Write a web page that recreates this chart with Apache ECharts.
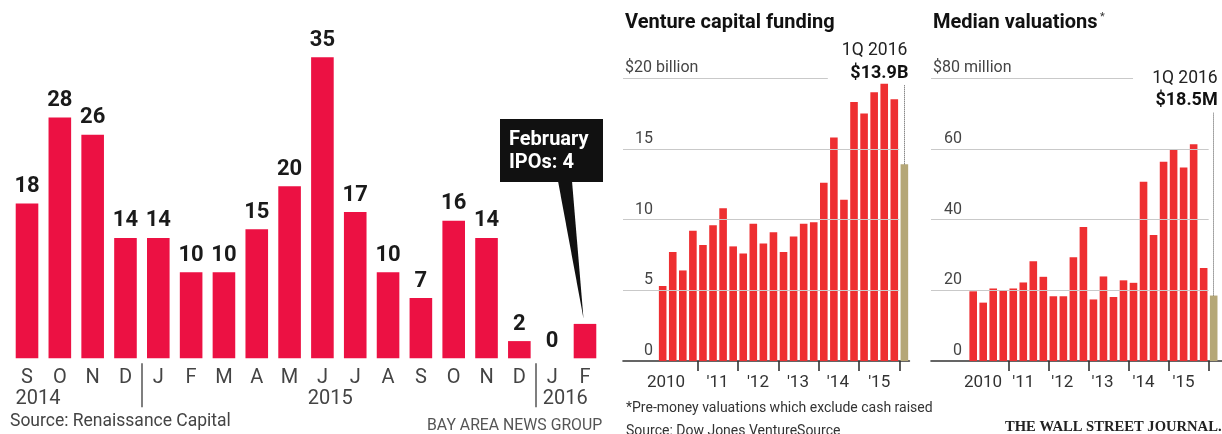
<!DOCTYPE html>
<html>
<head>
<meta charset="utf-8">
<script src="https://cdn.jsdelivr.net/npm/echarts@6/dist/echarts.min.js"></script>
<style>
  html, body { margin: 0; padding: 0; background: #fff; }
  #c { width: 1222px; height: 434px; }
</style>
</head>
<body>
<div id="c"></div>
<script>
// Monthly U.S. IPO counts, September 2014 - February 2016
const ipoMonths = ['S', 'O', 'N', 'D', 'J', 'F', 'M', 'A', 'M', 'J', 'J', 'A', 'S', 'O', 'N', 'D', 'J', 'F'];
const ipoCounts = [18, 28, 26, 14, 14, 10, 10, 15, 20, 35, 17, 10, 7, 16, 14, 2, 0, 4];
const ipoYears = ['2014', '2015', '2016'];

// Quarterly venture capital funding, $ billion, 1Q 2010 - 1Q 2016
const vcFunding = [5.3, 7.7, 6.4, 9.2, 8.2, 9.6, 10.8, 8.1, 7.6, 9.7, 8.3, 9.1, 7.7, 8.8, 9.7, 9.8,
                   12.6, 15.8, 11.4, 18.3, 17.5, 19.0, 19.6, 18.5, 13.9];
// Quarterly median pre-money valuations, $ million, 1Q 2010 - 1Q 2016
const medianValuation = [19.7, 16.5, 20.5, 20.0, 20.5, 22.2, 28.2, 23.8, 18.3, 18.3, 29.3, 37.9, 17.4, 23.9,
                         18.1, 22.8, 22.1, 50.7, 35.6, 56.3, 59.8, 54.7, 61.3, 26.3, 18.5];
const yearTicks = ['2010', "'11", "'12", "'13", "'14", "'15"];
const latestQuarter = '1Q 2016';

const SANS = 'Roboto, "Liberation Sans", sans-serif';
const IPO_RED = '#ec1143';
const VC_RED = '#ee2f31';
const GOLD = '#b5a777';
const RULE = '#c9c9c9';
const INK = '#222';

const chart = echarts.init(document.getElementById('c'), null, { renderer: 'canvas' });

function nearestLabel(value, positions, labels) {
  let best = 0;
  positions.forEach((p, i) => { if (Math.abs(p - value) < Math.abs(positions[best] - value)) best = i; });
  return labels[best];
}

// the two quarterly panels share one layout; only the scale and the unit differ
function quarterPanel(idx, opts) {
  const last = opts.values.length - 1;
  const xAxis = {
    type: 'value', gridIndex: idx, min: opts.xMin, max: opts.xMax,
    axisLine: { show: true, onZero: false, lineStyle: { color: '#333', width: 1.6 } },
    axisTick: { show: true, length: 10, customValues: [3.5, 7.5, 11.5, 15.5, 19.5, 23.5],
                lineStyle: { color: '#333', width: 1.6 } },
    axisLabel: { show: true, customValues: opts.labelPos, margin: 13, color: '#333',
                 fontFamily: SANS, fontSize: 17, hideOverlap: false,
                 formatter: v => nearestLabel(v, opts.labelPos, yearTicks) },
    splitLine: { show: false }
  };
  const yBase = {
    type: 'value', gridIndex: idx, position: 'left', min: 0, max: opts.yMax, interval: opts.yMax / 4,
    axisLine: { show: false }, axisTick: { show: false }, splitLine: { show: false }
  };
  const labelBase = { inside: true, verticalAlign: 'bottom', padding: [0, 0, 2, 0],
                      color: '#444', fontFamily: SANS, fontSize: 16 };
  // plain numbers, right-aligned above their rule
  const yAxis = Object.assign({}, yBase, {
    axisLabel: Object.assign({}, labelBase, { margin: opts.numRight, align: 'right',
      formatter: v => v === opts.yMax ? '' : String(v) })
  });
  // the top value carries the currency and the unit
  const yTopAxis = Object.assign({}, yBase, {
    axisLabel: Object.assign({}, labelBase, { margin: 2, align: 'left',
      formatter: v => v === opts.yMax ? '$' + v + ' ' + opts.unit : '' })
  });
  const rules = [opts.yMax / 4, opts.yMax / 2, opts.yMax * 3 / 4].map(v => [
    { coord: [opts.xMin, v] }, { coord: [23.5, v] }
  ]);
  rules.push([{ coord: [opts.xMin, opts.yMax] }, { coord: [opts.topRuleEnd, opts.yMax] }]);

  const series = [
    {
      type: 'line', data: [], z: 1, silent: true,
      markLine: { silent: true, animation: false, symbol: ['none', 'none'], label: { show: false },
                  lineStyle: { color: RULE, width: 1.2, type: 'solid' }, data: rules }
    },
    {
      type: 'bar', z: 3, barWidth: 7.6,
      data: opts.values.map((v, i) => ({ value: [i, v], itemStyle: { color: i === last ? GOLD : VC_RED } })),
      markLine: {
        silent: true, animation: false, symbol: ['none', 'none'], label: { show: false },
        lineStyle: { color: '#555', width: 1, type: 'dotted' },
        data: [[{ coord: [last, opts.values[last]] }, { coord: [last, opts.leaderTop] }]]
      }
    }
  ];
  return { xAxis, yAxis, yTopAxis, series };
}

const mid = quarterPanel(1, {
  values: vcFunding, xMin: -3.94, xMax: 24.5, yMax: 20, unit: 'billion', numRight: 30,
  labelPos: [0.33, 5.44, 9.46, 13.43, 17.4, 21.5], topRuleEnd: 16.4, leaderTop: 19.5
});
const right = quarterPanel(2, {
  values: medianValuation, xMin: -4.21, xMax: 24.83, yMax: 80, unit: 'million', numRight: 31,
  labelPos: [0.98, 5.0, 8.9, 12.9, 17.0, 21.0], topRuleEnd: 15.95, leaderTop: 70.2
});

// IPO panel: month letters on a category axis; years and year dividers on a matching value axis
const ipoAxis = {
  type: 'category', gridIndex: 0, data: ipoMonths,
  axisLine: { show: false }, axisTick: { show: false },
  axisLabel: { margin: 10, color: '#444', fontFamily: SANS, fontSize: 20, interval: 0 }
};
const ipoYearPos = [0.335, 9.24, 16.4];
const ipoYearAxis = {
  type: 'value', gridIndex: 0, min: -0.5, max: ipoMonths.length - 0.5, position: 'bottom', offset: 5,
  axisLine: { show: false }, splitLine: { show: false },
  axisTick: { show: true, length: 44, customValues: [3.5, 15.5], lineStyle: { color: '#555', width: 1.5 } },
  axisLabel: { show: true, customValues: ipoYearPos, margin: 26, color: '#444', fontFamily: SANS, fontSize: 20,
               formatter: v => nearestLabel(v, ipoYearPos, ipoYears) }
};

const lastIpo = ipoCounts.length - 1;
chart.setOption({
  animation: false,
  grid: [
    { left: 10.6, top: 14.3, width: 590.8, height: 344, outerBoundsMode: 'none' },
    { left: 623, top: 78, width: 286.4, height: 283, outerBoundsMode: 'none' },
    { left: 931, top: 78, width: 291, height: 283, outerBoundsMode: 'none' }
  ],
  xAxis: [ipoAxis, ipoYearAxis, mid.xAxis, right.xAxis],
  yAxis: [
    { type: 'value', gridIndex: 0, min: 0, max: 40, show: false },
    mid.yAxis, right.yAxis, mid.yTopAxis, right.yTopAxis
  ],
  series: [
    {
      type: 'bar', xAxisIndex: 0, yAxisIndex: 0, data: ipoCounts, barWidth: 22.6,
      itemStyle: { color: IPO_RED },
      label: {
        show: true, position: 'top', distance: 6, color: '#1a1a1a',
        fontFamily: SANS, fontWeight: 'bold', fontSize: 22,
        formatter: p => p.dataIndex === lastIpo ? '' : String(p.value)
      }
    },
    ...mid.series.map(s => Object.assign({}, s, { xAxisIndex: 2, yAxisIndex: 1 })),
    ...right.series.map(s => Object.assign({}, s, { xAxisIndex: 3, yAxisIndex: 2 }))
  ]
});

// callout pointing at the latest month, and the latest-quarter annotations
const tip = chart.convertToPixel({ xAxisIndex: 0, yAxisIndex: 0 }, [lastIpo, ipoCounts[lastIpo]]);
const midTop = chart.convertToPixel({ xAxisIndex: 2, yAxisIndex: 1 }, [vcFunding.length - 1, 19.5]);
const rightTop = chart.convertToPixel({ xAxisIndex: 3, yAxisIndex: 2 }, [medianValuation.length - 1, 70.2]);

function txt(x, y, text, font, fill, align, vAlign) {
  return { type: 'text', x, y, silent: true,
           style: { text, font, fill: fill || INK, align: align || 'left', textAlign: align || 'left',
                    verticalAlign: vAlign || 'middle', textVerticalAlign: vAlign || 'middle' } };
}

chart.setOption({
  graphic: [
    { type: 'rect', shape: { x: 500, y: 119, width: 103, height: 63 }, style: { fill: '#111' }, silent: true },
    { type: 'polygon', shape: { points: [[558, 181], [572, 181], [tip[0] - 1.5, tip[1] - 5.5]] },
      style: { fill: '#111' }, silent: true },
    txt(509, 140, 'February', 'bold 20px ' + SANS, '#fff'),
    txt(509, 163, 'IPOs: ' + ipoCounts[lastIpo], 'bold 20px ' + SANS, '#fff'),
    txt(10, 422, 'Source: Renaissance Capital', '17.5px ' + SANS, '#444'),
    txt(427, 426, 'BAY AREA NEWS GROUP', '15.8px ' + SANS, '#555'),

    txt(625, 23, 'Venture capital funding', 'bold 20px ' + SANS, '#111'),
    txt(midTop[0] + 3, midTop[1] - 34, latestQuarter, '17.5px ' + SANS, '#222', 'right'),
    txt(midTop[0] + 4, midTop[1] - 12, '$' + vcFunding[vcFunding.length - 1].toFixed(1) + 'B',
        'bold 18px ' + SANS, '#111', 'right'),
    txt(626, 408, '*Pre-money valuations which exclude cash raised', '14px ' + SANS, '#333'),
    txt(626, 431, 'Source: Dow Jones VentureSource', '14px ' + SANS, '#333'),

    txt(933, 23, 'Median valuations', 'bold 20px ' + SANS, '#111'),
    txt(1100, 17, '*', '11px ' + SANS, '#333'),
    txt(rightTop[0] + 4, rightTop[1] - 34, latestQuarter, '17.5px ' + SANS, '#222', 'right'),
    txt(rightTop[0] + 4, rightTop[1] - 12, '$' + medianValuation[medianValuation.length - 1].toFixed(1) + 'M',
        'bold 18px ' + SANS, '#111', 'right'),
    txt(1005, 427, 'THE WALL STREET JOURNAL.', 'bold 14.6px "Liberation Serif", "DejaVu Serif", serif', '#222')
  ]
});
</script>
</body>
</html>
